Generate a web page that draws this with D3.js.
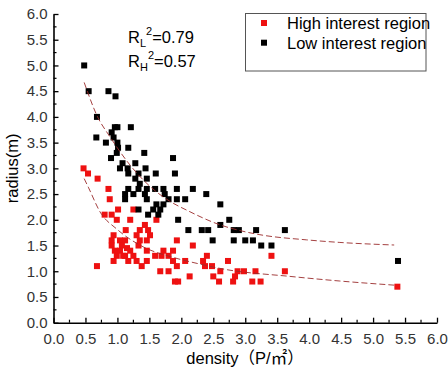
<!DOCTYPE html>
<html>
<head>
<meta charset="utf-8">
<script src="https://cdn.jsdelivr.net/npm/d3@7"></script>
<style>
	body { margin: 0; background: #fff; }
	text { font-family: Arial, "Liberation Sans", "Noto Sans CJK SC", sans-serif; }
</style>
</head>
<body>
<script>
// High interest region (red) : [density, radius]
const highX = [0.47, 0.54, 0.69, 0.86, 0.88, 0.80, 0.91, 1.01, 0.99, 1.20, 1.25, 1.61, 1.13, 1.43, 1.35, 1.48,
	0.94, 1.30, 1.51, 0.91, 1.04, 1.12, 1.35, 1.46, 1.93, 0.91, 1.07, 1.20, 1.33, 1.46, 2.18, 0.99, 1.12, 1.25,
	1.59, 1.69, 1.80, 0.94, 1.17, 1.30, 1.46, 1.87, 2.06, 2.34, 2.40, 1.38, 1.93, 0.68, 2.48, 1.67, 1.80, 2.61,
	2.50, 2.13, 1.90, 1.95, 2.59, 2.73, 3.41, 2.88, 2.98, 3.16, 3.62, 2.81, 3.11, 3.24, 5.38, 1.72, 1.87, 2.37,
	2.84, 1.04, 1.15, 0.96, 1.09];
const highY = [3.0, 2.9, 2.8, 2.6, 2.4, 2.1, 2.1, 2.2, 2.0, 2.0, 2.2, 2.0, 1.8, 1.9, 1.8, 1.8,
	1.7, 1.7, 1.7, 1.6, 1.6, 1.6, 1.6, 1.6, 1.6, 1.5, 1.5, 1.4, 1.5, 1.4, 1.5, 1.3, 1.3, 1.3,
	1.3, 1.3, 1.3, 1.2, 1.2, 1.2, 1.2, 1.2, 1.2, 1.2, 1.3, 1.1, 1.1, 1.1, 1.1, 1.0, 1.0, 1.0,
	0.9, 0.9, 0.8, 0.8, 0.8, 1.2, 1.3, 1.0, 1.0, 1.0, 1.0, 0.8, 0.8, 0.8, 0.7, 1.4, 1.4, 1.1,
	0.9, 1.4, 1.45, 1.4, 1.3];

// Low interest region (black)
const lowX = [0.48, 0.55, 0.86, 0.97, 0.68, 0.67, 0.82, 0.91, 0.96, 1.00, 1.21, 0.94, 1.00, 1.01, 1.17, 0.99,
	1.42, 0.90, 1.87, 1.08, 1.28, 1.04, 1.16, 1.44, 1.17, 1.33, 1.60, 1.90, 1.28, 1.46, 1.35, 1.17, 1.33, 1.46,
	1.59, 1.72, 1.93, 2.18, 1.12, 1.25, 1.43, 1.74, 2.39, 1.12, 1.46, 1.80, 1.93, 2.06, 1.61, 1.72, 2.61, 1.33,
	1.56, 1.67, 1.64, 1.48, 1.95, 2.75, 2.61, 2.11, 2.32, 2.42, 2.82, 2.90, 3.17, 3.62, 2.49, 2.82, 3.00, 3.12,
	3.25, 3.41, 5.39];
const lowY = [5.0, 4.5, 4.5, 4.4, 4.0, 3.6, 3.5, 3.7, 3.8, 3.8, 3.8, 3.6, 3.5, 3.4, 3.4, 3.3,
	3.3, 3.2, 3.2, 3.1, 3.1, 3.0, 3.0, 3.0, 2.9, 2.9, 2.9, 2.9, 2.8, 2.8, 2.7, 2.6, 2.6, 2.6,
	2.6, 2.6, 2.6, 2.6, 2.5, 2.5, 2.5, 2.5, 2.5, 2.4, 2.4, 2.4, 2.4, 2.4, 2.3, 2.3, 2.3, 2.2,
	2.2, 2.2, 2.1, 2.1, 2.0, 2.0, 1.9, 1.8, 1.8, 1.8, 1.8, 1.8, 1.8, 1.8, 1.6, 1.6, 1.6, 1.6,
	1.5, 1.5, 1.2];

// fitted curves
const fitHighX = [0.48, 0.55, 0.73, 0.99, 1.41, 1.87, 2.29, 2.67, 3.70, 4.48, 5.33];
const fitHighY = [2.80, 2.62, 2.15, 1.82, 1.47, 1.27, 1.14, 1.04, 0.90, 0.81, 0.73];
const fitLowX = [0.48, 0.69, 0.88, 1.20, 1.50, 1.82, 2.08, 2.61, 2.92, 3.23, 3.96, 4.48, 5.33];
const fitLowY = [4.67, 4.00, 3.62, 3.06, 2.66, 2.36, 2.19, 1.90, 1.79, 1.71, 1.61, 1.56, 1.51];

const xTicks = ["0.0", "0.5", "1.0", "1.5", "2.0", "2.5", "3.0", "3.5", "4.0", "4.5", "5.0", "5.5", "6.0"];
const yTicks = ["0.0", "0.5", "1.0", "1.5", "2.0", "2.5", "3.0", "3.5", "4.0", "4.5", "5.0", "5.5", "6.0"];
const seriesNames = ["High interest region", "Low interest region"];
const seriesColors = ["#ee1111", "#000000"];

const width = 448, height = 372;
const x = d3.scaleLinear().domain([0, 6]).range([53.5, 437]);
const y = d3.scaleLinear().domain([0, 6]).range([322.7, 14]);

const svg = d3.select("body").append("svg")
	.attr("width", width)
	.attr("height", height);

// axes, ticks pointing inward
const xAxis = d3.axisBottom(x)
	.tickValues(xTicks.map(Number))
	.tickFormat((d, i) => xTicks[i])
	.tickSizeInner(-5).tickSizeOuter(0).tickPadding(9);
const gx = svg.append("g")
	.attr("transform", `translate(0,${y(0)})`)
	.call(xAxis);
gx.selectAll(".tick line").attr("stroke-width", 1.3);
gx.selectAll("text").attr("font-size", 15).attr("fill", "#333").attr("dy", "0.85em");
gx.select(".domain").attr("stroke-width", 1.6);
svg.append("g")
	.attr("transform", `translate(0,${y(0)})`)
	.selectAll("line")
	.data(d3.range(0.25, 6, 0.5))
	.join("line")
	.attr("x1", d => x(d)).attr("x2", d => x(d))
	.attr("y1", 0).attr("y2", -3)
	.attr("stroke", "#000").attr("stroke-width", 1.2);

const yAxis = d3.axisLeft(y)
	.tickValues(yTicks.map(Number))
	.tickFormat((d, i) => yTicks[i])
	.tickSizeInner(-5).tickSizeOuter(0).tickPadding(6);
const gy = svg.append("g")
	.attr("transform", `translate(${x(0)},0)`)
	.call(yAxis);
gy.selectAll(".tick line").attr("stroke-width", 1.3);
gy.selectAll("text").attr("font-size", 15).attr("fill", "#333");
gy.select(".domain").attr("stroke-width", 1.6);
svg.append("g")
	.attr("transform", `translate(${x(0)},0)`)
	.selectAll("line")
	.data(d3.range(0.25, 6, 0.5))
	.join("line")
	.attr("y1", d => y(d)).attr("y2", d => y(d))
	.attr("x1", 0).attr("x2", 3)
	.attr("stroke", "#000").attr("stroke-width", 1.2);

// axis titles
svg.append("text")
	.attr("transform", `translate(18,${y(3.0)}) rotate(-90)`)
	.attr("text-anchor", "middle")
	.attr("font-size", 16.5)
	.text("radius(m)");
svg.append("text")
	.attr("x", 245).attr("y", 364)
	.attr("text-anchor", "middle")
	.attr("font-size", 16.5)
	.text("density（P/㎡）");

// points
const sq = 6;
function drawPoints(xs, ys, color) {
	svg.append("g")
		.selectAll("rect")
		.data(xs.map((d, i) => [d, ys[i]]))
		.join("rect")
		.attr("x", d => x(d[0]) - sq / 2)
		.attr("y", d => y(d[1]) - sq / 2)
		.attr("width", sq).attr("height", sq)
		.attr("fill", color);
}
drawPoints(highX, highY, seriesColors[0]);
drawPoints(lowX, lowY, seriesColors[1]);

// fit curves
const line = d3.line().x(d => x(d[0])).y(d => y(d[1])).curve(d3.curveMonotoneX);
[[fitHighX, fitHighY], [fitLowX, fitLowY]].forEach(([fx, fy]) => {
	svg.append("path")
		.attr("d", line(fx.map((d, i) => [d, fy[i]])))
		.attr("fill", "none")
		.attr("stroke", "#9a2b2b")
		.attr("stroke-width", 0.9)
		.attr("stroke-dasharray", "6,3");
});

// R^2 annotations
function rLabel(yy, sub, val) {
	const t = svg.append("text").attr("x", 128).attr("y", yy).attr("font-size", 16.5);
	t.append("tspan").text("R");
	t.append("tspan").attr("font-size", 11).attr("dy", 4).text(sub);
	t.append("tspan").attr("font-size", 11).attr("dy", -12).text("2");
	t.append("tspan").attr("dy", 8).text("=" + val);
}
rLabel(43, "L", "0.79");
rLabel(67, "H", "0.57");

// legend
svg.append("rect")
	.attr("x", 245.5).attr("y", 13.5)
	.attr("width", 180.5).attr("height", 57.5)
	.attr("fill", "#fff").attr("stroke", "#555").attr("stroke-width", 1);
const leg = svg.append("g")
	.selectAll("g")
	.data(seriesNames)
	.join("g")
	.attr("transform", (d, i) => `translate(264,${23 + i * 19.7})`);
leg.append("rect")
	.attr("x", -3).attr("y", -3).attr("width", 6).attr("height", 6)
	.attr("fill", (d, i) => seriesColors[i]);
leg.append("text")
	.attr("x", 23).attr("y", 6)
	.attr("font-size", 16.5)
	.text(d => d);
</script>
</body>
</html>
